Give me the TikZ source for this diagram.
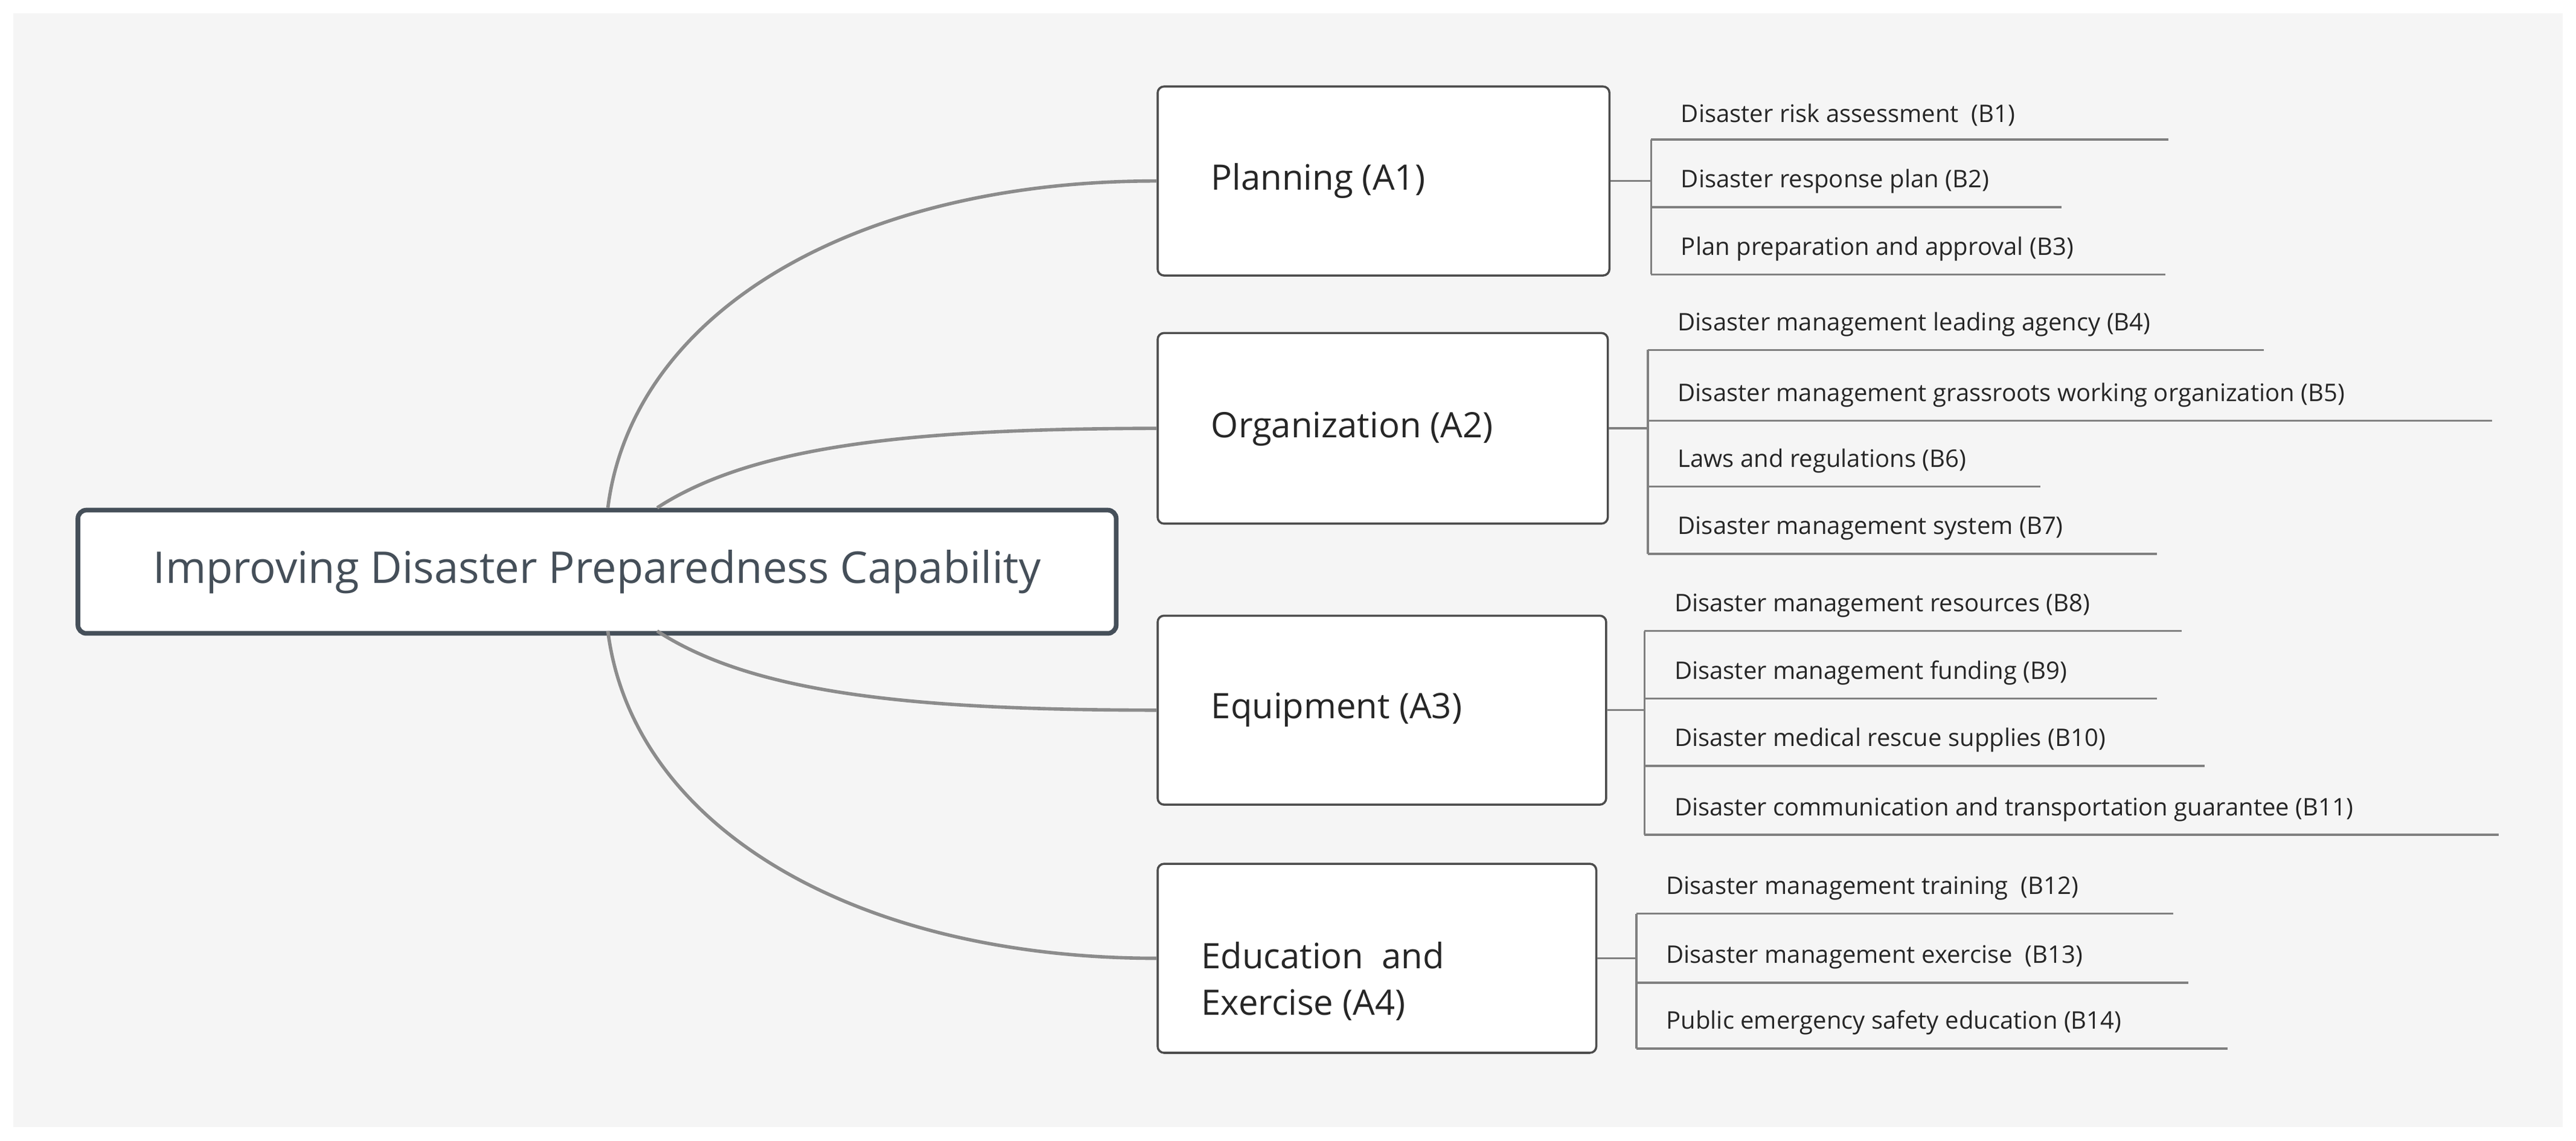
\documentclass[tikz,border=0pt]{standalone}
\usepackage{fontspec}
\setmainfont{Open Sans}
\begin{document}
\begin{tikzpicture}[x=0.027207cm,y=-0.027207cm,
  conn/.style={draw=black!45,line width=1.6pt},
  sub/.style={draw=black!50,line width=1pt},
  abox/.style={draw=black!70,line width=1pt,fill=white,rounded corners=3pt,anchor=north west,inner sep=0pt},
  atxt/.style={anchor=west,inner sep=0pt,font=\fontsize{16.5}{22}\selectfont,text=black!85},
  btxt/.style={anchor=south west,inner sep=0pt,font=\fontsize{11.4}{13}\selectfont,text=black!85}]
\useasboundingbox (0,0) rectangle (1568,694);
\fill[white] (0,0) rectangle (1568,694);
\fill[black!4] (8,8) rectangle (1560,686);
% root
\node[draw={rgb,255:red,69;green,79;blue,89},line width=2.2pt,fill=white,rounded corners=4pt,anchor=north west,minimum width=632*0.027207cm,minimum height=75*0.027207cm,inner sep=0pt,font=\fontsize{20.6}{24}\selectfont,text={rgb,255:red,69;green,79;blue,89}] (root) at (46,309) {Improving Disaster Preparedness Capability};
\coordinate (r1) at (370,309); \coordinate (r2) at (400,309);
\coordinate (r3) at (400,384); \coordinate (r4) at (370,384);
% A boxes
\node[abox,minimum width=275*0.027207cm,minimum height=115*0.027207cm] (A1) at (704,52) {};
\node[atxt] (tA1) at (737,110) {Planning (A1)};
\node[abox,minimum width=274*0.027207cm,minimum height=116*0.027207cm] (A2) at (704,202) {};
\node[atxt] (tA2) at (737,261) {Organization (A2)};
\node[abox,minimum width=273*0.027207cm,minimum height=115*0.027207cm] (A3) at (704,374) {};
\node[atxt] (tA3) at (737,432) {Equipment (A3)};
\node[abox,minimum width=267*0.027207cm,minimum height=115*0.027207cm] (A4) at (704,525) {};
\node[atxt,align=left] (tA4) at (731,597) {Education~ and\\Exercise (A4)};
% main curves
\draw[conn] (r1) .. controls (385,190) and (520,110) .. (A1.west);
\draw[conn] (r2) .. controls (460,270) and (560,261) .. (A2.west);
\draw[conn] (r3) .. controls (460,423) and (560,432) .. (A3.west);
\draw[conn] (r4) .. controls (385,503) and (520,583) .. (A4.west);
% children
\foreach \p/\xb/\list in {A1/1005/{85/1320/Disaster risk assessment~ (B1),126/1255/Disaster response plan (B2),167/1318/Plan preparation and approval (B3)},
  A2/1003/{213/1378/Disaster management leading agency (B4),256/1517/Disaster management grassroots working organization (B5),296/1242/Laws and regulations (B6),337/1313/Disaster management system (B7)},
  A3/1001/{384/1328/Disaster management resources (B8),425/1313/Disaster management funding (B9),466/1342/Disaster medical rescue supplies (B10),508/1521/Disaster communication and transportation guarantee (B11)},
  A4/996/{556/1323/Disaster management training~ (B12),598/1332/Disaster management exercise~ (B13),638/1356/Public emergency safety education (B14)}}{
  \coordinate (j\p) at (\xb,0);
  \draw[sub] (\p.east) -- (\p.east -| j\p);
  \foreach \y/\xe/\t [count=\i] in \list {
    \coordinate (u\p\i) at (\xb,\y);
    \coordinate (e\p\i) at (\xe,\y);
    \node[btxt] (b\p\i) at (\xb+18,\y-8) {\t};
    \draw[sub] (u\p\i) -- (e\p\i);
  }
}
\draw[sub] (uA11) -- (uA13);
\draw[sub] (uA21) -- (uA24);
\draw[sub] (uA31) -- (uA34);
\draw[sub] (uA41) -- (uA43);
\end{tikzpicture}
\end{document}
